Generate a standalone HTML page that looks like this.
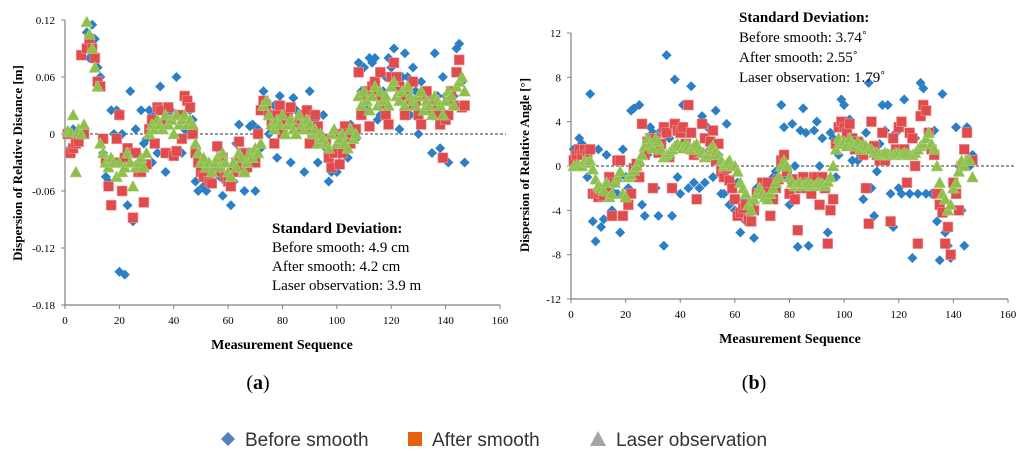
<!DOCTYPE html>
<html><head><meta charset="utf-8"><style>
body{margin:0;background:#fff;width:1024px;height:461px;overflow:hidden}
svg text{font-family:"Liberation Serif",serif}
</style></head><body>
<svg id="c" width="1024" height="461"></svg>
<script>
const idx=[];for(let i=1;i<=147;i++)idx.push(i);
const leftBefore=[0.0,-0.015,0.005,-0.01,0.0,0.0,0.005,0.107,0.08,0.115,0.1,0.07,0.06,-0.02,-0.045,-0.05,0.025,0.0,0.025,-0.145,0.0,-0.148,-0.075,0.045,-0.092,0.005,-0.03,0.025,-0.01,-0.005,0.025,-0.03,0.02,-0.02,0.05,0.01,-0.04,0.02,0.025,-0.02,0.06,0.02,-0.02,0.005,0.0,0.025,0.015,-0.05,-0.06,-0.04,-0.055,-0.06,-0.045,-0.05,-0.035,-0.015,-0.045,-0.065,-0.05,-0.045,-0.075,-0.05,-0.01,0.01,-0.03,-0.06,-0.02,0.008,0.01,-0.06,0.005,-0.015,0.045,0.035,0.0,0.01,0.03,-0.025,0.04,0.005,0.0,0.02,-0.03,0.038,0.025,0.01,0.005,-0.04,0.02,0.045,-0.005,0.015,-0.03,0.0,0.02,-0.015,-0.05,-0.04,-0.02,-0.04,-0.03,-0.01,0.005,-0.025,0.01,0.005,-0.005,0.075,0.045,0.07,0.025,0.08,0.075,0.08,0.015,0.02,0.045,0.06,0.08,0.07,0.09,0.055,0.005,0.06,0.085,0.06,0.02,0.07,0.045,0.0,0.055,0.04,0.045,0.035,-0.02,0.085,0.04,-0.015,0.06,0.04,-0.03,0.045,0.04,0.09,0.095,0.055,-0.03];
const leftAfter=[0.0,-0.02,-0.015,-0.01,-0.008,0.083,0.0,0.09,0.1,0.09,0.08,0.055,0.05,-0.005,-0.028,-0.055,-0.075,-0.03,-0.005,0.02,-0.06,-0.025,-0.015,-0.02,-0.088,-0.02,-0.04,-0.04,-0.072,-0.032,0.005,0.015,-0.01,0.028,0.025,0.01,-0.02,0.028,0.015,-0.023,-0.018,0.02,-0.005,0.04,0.035,0.028,0.0,-0.02,-0.03,-0.04,-0.045,-0.035,-0.05,-0.052,-0.04,-0.013,-0.04,-0.025,-0.045,-0.05,-0.055,-0.04,-0.03,-0.008,-0.02,-0.04,-0.035,-0.03,-0.02,-0.03,0.0,0.025,0.035,0.03,0.02,0.01,-0.01,0.02,0.03,0.0,0.015,0.02,0.028,0.012,0.005,0.005,0.015,0.02,0.025,-0.01,0.0,0.02,0.008,-0.01,-0.005,-0.01,-0.025,-0.035,-0.02,0.0,-0.032,-0.02,0.008,0.0,-0.01,0.005,0.005,0.065,0.02,0.04,0.045,0.008,0.05,0.055,0.04,0.065,0.03,0.02,0.01,0.06,0.075,0.06,0.05,0.04,0.02,0.045,0.03,0.055,0.035,0.02,0.01,0.04,0.045,0.025,0.03,0.035,0.02,0.01,-0.025,0.015,0.02,0.045,0.03,0.065,0.078,0.028,0.03];
const leftLaser=[0.003,0.002,0.02,-0.04,0.005,0.0,0.01,0.118,0.105,0.09,0.07,0.05,-0.01,-0.02,-0.03,-0.035,-0.025,-0.03,-0.045,-0.03,-0.04,-0.035,-0.02,-0.03,-0.055,-0.035,-0.03,-0.025,-0.035,-0.02,0.0,0.01,0.005,0.015,0.01,0.005,0.02,0.01,0.015,0.0,0.02,0.01,0.015,0.02,0.01,0.015,0.01,-0.01,-0.02,-0.03,-0.025,-0.035,-0.03,-0.04,-0.03,-0.025,-0.035,-0.02,-0.03,-0.04,-0.045,-0.03,-0.035,-0.02,-0.025,-0.04,-0.03,-0.02,-0.025,-0.015,-0.02,-0.01,0.03,0.035,0.02,0.01,0.005,0.015,0.01,0.02,0.0,0.01,0.015,0.005,0.0,0.02,0.01,0.005,0.015,0.01,0.0,0.005,-0.01,0.0,-0.005,-0.01,-0.015,0.0,0.005,-0.01,-0.005,0.0,-0.01,-0.015,0.005,-0.005,0.0,0.04,0.03,0.045,0.035,0.025,0.04,0.05,0.03,0.045,0.035,0.04,0.03,0.05,0.055,0.04,0.035,0.045,0.03,0.05,0.04,0.035,0.03,0.04,0.045,0.025,0.035,0.03,0.02,0.04,0.035,0.03,0.02,0.035,0.045,0.04,0.03,0.05,0.055,0.06,0.045];
const rightBefore=[1.5,1.0,2.5,2.0,1.0,-1.0,6.5,-5.0,-6.8,1.5,-5.5,-4.8,1.0,-2.0,-4.0,-2.5,-2.5,-6.0,1.5,-1.0,-2.0,5.0,5.2,0.0,5.5,-3.5,-4.5,1.0,3.5,3.0,-2.0,-4.5,3.2,-7.2,10.0,2.5,-4.5,7.8,-1.0,-2.5,5.5,3.0,-2.0,7.2,-1.5,1.5,-2.0,4.5,-1.5,3.5,1.5,-1.0,5.0,1.0,-2.5,-2.5,3.8,-3.5,-1.5,-4.0,-1.5,-6.0,-3.0,-5.0,-3.0,-3.5,-6.5,-2.0,-2.5,-1.5,-1.5,-2.5,-3.0,-1.0,-0.5,-1.0,5.5,3.5,-1.0,-3.5,3.8,0.0,-7.3,3.2,5.2,3.0,-7.2,-2.0,3.2,4.0,0.0,2.5,-2.0,-6.0,3.0,2.5,-1.0,1.0,6.0,5.5,3.0,4.2,0.5,2.0,0.5,1.0,-3.0,3.0,7.5,-2.0,-4.5,-0.5,2.0,5.5,3.2,5.5,-2.5,-5.5,3.0,-2.0,-2.5,6.0,1.0,-2.5,-8.3,2.5,-2.5,7.5,7.0,-2.5,3.0,-2.5,3.2,-5.0,-8.5,6.5,-6.0,-7.2,-8.3,-1.5,3.5,0.0,-4.0,-7.2,3.5,0.0,1.0];
const rightAfter=[0.5,1.0,1.5,1.0,1.5,1.0,1.5,-2.5,-2.5,-2.8,-2.5,-2.7,-2.3,-1.0,-4.5,-1.5,0.5,0.5,-4.5,-2.8,-3.5,-2.5,-0.2,0.2,-1.0,3.8,1.0,2.2,2.5,-2.0,2.5,1.2,2.0,3.5,3.0,0.8,-2.0,3.8,3.2,3.0,3.5,2.0,5.5,3.0,1.0,-3.0,1.2,3.8,2.5,1.0,2.2,3.2,0.5,2.0,-0.5,-1.0,-0.2,-1.3,-2.0,-3.0,-4.5,-4.2,-3.8,-3.5,-4.8,-5.0,-4.0,-2.5,-2.5,-1.5,-2.0,-1.5,-4.5,-3.0,-2.0,-1.2,0.5,1.0,-0.5,-2.5,-1.2,-3.0,-5.8,-2.0,-1.0,-2.0,-1.5,-2.5,-1.0,-1.0,-3.5,-1.0,-2.0,-7.0,-4.0,-3.0,2.0,3.5,4.0,3.5,3.0,3.8,2.5,1.5,2.2,1.5,1.0,-2.0,-5.2,4.0,1.8,1.0,0.5,3.0,0.5,1.0,-5.0,2.5,1.5,3.5,4.0,1.5,-1.5,3.0,2.5,0.0,-7.0,4.5,5.5,5.0,3.0,1.5,1.0,-2.5,-3.5,-4.2,-7.0,-5.5,-8.0,-1.5,-2.5,-4.0,0.0,1.5,3.0,0.5,0.5];
const rightLaser=[0.0,0.0,0.0,0.0,0.5,0.3,0.5,-0.3,-1.2,-1.8,-2.0,-2.2,-1.5,-2.8,-2.5,-1.5,-1.0,-0.5,-2.5,-2.8,-1.0,-0.8,-0.4,0.0,0.5,1.0,1.8,2.5,2.0,1.6,2.5,2.2,1.5,0.8,1.0,1.2,1.5,1.8,2.0,1.8,1.6,2.0,1.8,1.5,1.8,2.0,1.5,1.2,0.8,1.0,1.5,1.8,1.3,1.0,0.5,0.0,0.2,0.5,0.0,0.0,-0.5,-1.5,-2.0,-2.5,-3.5,-4.0,-3.0,-2.5,-2.0,-2.5,-2.8,-3.0,-2.5,-2.0,-1.5,-1.0,0.0,0.5,0.0,-1.0,-1.5,-1.8,-1.6,-1.5,-1.8,-1.6,-1.5,-1.7,-1.8,-1.6,-1.5,-1.6,-1.8,-1.4,-1.0,0.0,1.5,2.5,2.0,2.2,1.8,2.5,2.0,1.8,2.2,1.5,2.0,1.8,1.5,1.5,1.2,1.2,1.0,1.0,1.2,1.1,1.0,1.0,1.2,1.1,1.0,1.2,1.1,1.0,1.0,1.2,1.5,1.8,2.0,2.5,3.0,2.0,1.5,0.0,-1.5,-2.5,-3.0,-4.0,-3.5,-2.0,-1.5,-0.5,0.5,0.0,0.5,0.5,-1.0];
const xTicks=[0,20,40,60,80,100,120,140,160];
const leftYTicks=[0.12,0.06,0,-0.06,-0.12,-0.18];
const leftYLabels=["0.12","0.06","0","-0.06","-0.12","-0.18"];
const rightYTicks=[12,8,4,0,-4,-8,-12];

const NS="http://www.w3.org/2000/svg",svg=document.getElementById('c');
function el(t,a,p){const e=document.createElementNS(NS,t);for(const k in a)e.setAttribute(k,a[k]);(p||svg).appendChild(e);return e;}
const BLUE="#2a7fc6",RED="#e04b4e",GREEN="#8fbf4d";
function marker(g,kind,x,y){
  let m;
  if(kind==='d')m=el('polygon',{points:`${x},${y-5} ${x+5},${y} ${x},${y+5} ${x-5},${y}`,fill:BLUE},g);
  else if(kind==='s')m=el('rect',{x:x-5,y:y-5,width:10,height:10,fill:RED,stroke:"#f29a9a","stroke-width":0.6},g);
  else m=el('polygon',{points:`${x},${y-6} ${x+6},${y+5} ${x-6},${y+5}`,fill:GREEN,stroke:"#b6d98b","stroke-width":0.5},g);
  return m;
}
function chart(cfg){
  const {name,x0,x1,yTop,yBot,vmax,vmin,yt,ytl,series}=cfg;
  const g=el('g',{});
  
  
  const sx=v=>x0+(v-0)/160*(x1-x0), sy=v=>yTop+(vmax-v)/(vmax-vmin)*(yBot-yTop);
  const ax=el('line',{x1:x0,y1:yTop,x2:x0,y2:yBot,stroke:"#808080","stroke-width":1.2},g);
  
  const bx=el('line',{x1:x0,y1:yBot,x2:x1,y2:yBot,stroke:"#808080","stroke-width":1.2},g);
  
  yt.forEach((v,i)=>{
    el('line',{x1:x0-4,y1:sy(v),x2:x0,y2:sy(v),stroke:"#808080"},g);
    const t=el('text',{x:x0-10,y:sy(v)+4,"text-anchor":"end","font-size":11,fill:"#000"},g);
    t.textContent=ytl[i];
    
  });
  xTicks.forEach(v=>{
    el('line',{x1:sx(v),y1:yBot,x2:sx(v),y2:yBot+4,stroke:"#808080"},g);
    const t=el('text',{x:sx(v),y:yBot+19,"text-anchor":"middle","font-size":11,fill:"#000"},g);
    t.textContent=v;
    
  });
  const z=el('line',{x1:x0,y1:sy(0),x2:x1+6,y2:sy(0),stroke:"#333","stroke-dasharray":"3,2","stroke-width":1},g);
  
  series.forEach(s=>{
    const sg=el('g',{},g);
    
    s.data.forEach((v,i)=>{const m=marker(sg,s.kind,sx(idx[i]),sy(v));
      
      });
  });
}
chart({name:'chart-a',x0:65,x1:500,yTop:20,yBot:305,vmax:0.12,vmin:-0.18,yt:leftYTicks,ytl:leftYLabels,
 series:[{name:'before-smooth-a',kind:'d',data:leftBefore},{name:'after-smooth-a',kind:'s',data:leftAfter},{name:'laser-a',kind:'t',data:leftLaser}]});
chart({name:'chart-b',x0:571,x1:1008,yTop:33,yBot:299,vmax:12,vmin:-12,yt:rightYTicks,ytl:rightYTicks.map(String),
 series:[{name:'before-smooth-b',kind:'d',data:rightBefore},{name:'after-smooth-b',kind:'s',data:rightAfter},{name:'laser-b',kind:'t',data:rightLaser}]});
</script>
<svg width="1024" height="461" style="position:absolute;left:0;top:0">
<text x="22" y="163" transform="rotate(-90 22 163)" text-anchor="middle" font-size="13" font-weight="bold">Dispersion of Relative Distance [m]</text>
<text x="282" y="349" text-anchor="middle" font-size="14" font-weight="bold">Measurement Sequence</text>
<text x="272" y="233" font-size="15" font-weight="bold">Standard Deviation:</text>
<text x="272" y="252" font-size="15">Before smooth: 4.9 cm</text>
<text x="272" y="271" font-size="15">After smooth: 4.2 cm</text>
<text x="272" y="290" font-size="15">Laser observation: 3.9 m</text>
<text x="258" y="389" text-anchor="middle" font-size="20">(<tspan font-weight="bold">a</tspan>)</text>
<text x="529" y="165" transform="rotate(-90 529 165)" text-anchor="middle" font-size="13" font-weight="bold">Dispersion of Relative Angle [°]</text>
<text x="790" y="343" text-anchor="middle" font-size="14" font-weight="bold">Measurement Sequence</text>
<text x="739" y="22" font-size="15" font-weight="bold">Standard Deviation:</text>
<text x="739" y="42" font-size="15">Before smooth: 3.74˚</text>
<text x="739" y="62" font-size="15">After smooth: 2.55˚</text>
<text x="739" y="82" font-size="15">Laser observation: 1.79˚</text>
<text x="754" y="389" text-anchor="middle" font-size="20">(<tspan font-weight="bold">b</tspan>)</text>
<g style="font-family:'Liberation Sans',sans-serif" font-size="19" fill="#333">
<polygon points="228,432 235,439 228,446 221,439" fill="#4f81bd"/>
<text x="245" y="446" style="font-family:'Liberation Sans',sans-serif">Before smooth</text>
<rect x="408" y="432" width="14" height="14" fill="#e5600f"/>
<text x="432" y="446" style="font-family:'Liberation Sans',sans-serif">After smooth</text>
<polygon points="598,431 606,446 590,446" fill="#a5a5a5"/>
<text x="616" y="446" style="font-family:'Liberation Sans',sans-serif">Laser observation</text>
</g>
</svg>
</body></html>
